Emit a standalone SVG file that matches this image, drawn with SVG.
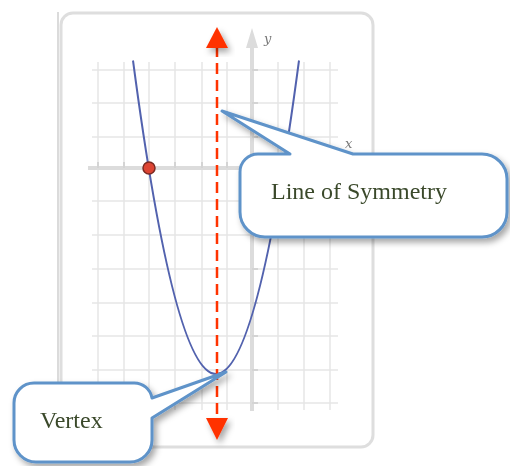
<svg xmlns="http://www.w3.org/2000/svg" width="510" height="466" viewBox="0 0 510 466">
<defs>
<style>
.grid{stroke:#e6e6e6;stroke-width:1.5;fill:none}
.axis{stroke:#dcdcdc;stroke-width:4;fill:none}
.tick{stroke:#d4d4d4;stroke-width:2}
.lbl{font-family:"DejaVu Serif","Liberation Serif",serif;font-style:italic;font-size:13px;fill:#777}
.callout{fill:#ffffff;stroke:#5e93c9;stroke-width:3;stroke-linejoin:round}
.ctext{font-family:"Liberation Serif","DejaVu Serif",serif;font-size:24px;fill:#3b4a2c}
</style>
<filter id="sh" x="-20%" y="-20%" width="150%" height="160%">
<feDropShadow dx="3" dy="4" stdDeviation="3" flood-color="#000" flood-opacity="0.35"/>
</filter>
<filter id="soft" x="-10%" y="-10%" width="120%" height="120%">
<feGaussianBlur stdDeviation="0.4"/>
</filter>
</defs>
<rect width="510" height="466" fill="#ffffff"/>
<g id="panel">
<line x1="58" y1="12" x2="58" y2="400" stroke="#cfcfcf" stroke-width="1.5"/>
<rect x="61" y="13" width="312" height="434" rx="12" fill="#ffffff" stroke="#dedede" stroke-width="3"/>
</g>
<g id="grid" filter="url(#soft)">
<path class="grid" d="M98 62V410M124 62V410M149 62V410M175 62V410M202 62V410M227 62V410M278 62V410M304 62V410M330 62V410"/>
<path class="grid" d="M92 70H338M92 103H338M92 137H338M92 201H338M92 235H338M92 269H338M92 303H338M92 336H338M92 370H338M92 403H338"/>
<line class="axis" x1="88" y1="168" x2="345" y2="168"/>
<line class="axis" x1="252" y1="45" x2="252" y2="411"/>
<polygon points="252,28 246,48 258,48" fill="#dcdcdc"/>
<path class="tick" d="M252 70h6M252 103h6M252 137h6M252 201h6M252 235h6M252 269h6M252 303h6M252 336h6M252 370h6M252 403h6"/>
<path class="tick" d="M98 162v6M124 162v6M149 162v6M175 162v6M202 162v6M227 162v6M278 162v6M304 162v6M330 162v6"/>
<text class="lbl" x="264" y="43">y</text>
<text class="lbl" x="345" y="148">x</text>
</g>
<g id="parabola">
<path d="M133 60.5Q216 687.5 299 60.5" fill="none" stroke="#5262ae" stroke-width="2"/>
<circle cx="149" cy="168" r="6" fill="#dd4433" stroke="#7a2a22" stroke-width="1.5"/>
</g>
<g id="connectors">
<line x1="217" y1="46" x2="217" y2="419" stroke="#ff3300" stroke-width="2.5" stroke-dasharray="11,6"/>
<polygon points="217,27 206,48 228,48" fill="#ff3300" filter="url(#sh)"/>
<polygon points="217,440 206,418 228,418" fill="#ff3300" filter="url(#sh)"/>
</g>
<g id="symmetry" filter="url(#sh)">
<path class="callout" d="M222 111L353 154H482A25 25 0 0 1 507 179V212A25 25 0 0 1 482 237H265A25 25 0 0 1 240 212V172A18 18 0 0 1 258 154H290Z"/>
<text class="ctext" x="271" y="199">Line of Symmetry</text>
</g>
<g id="vertex" filter="url(#sh)">
<path class="callout" d="M226 372L152 418V440A22 22 0 0 1 130 462H36A22 22 0 0 1 14 440V403A20 20 0 0 1 34 383H134A18 18 0 0 1 152 398Z"/>
<text class="ctext" x="40" y="428">Vertex</text>
</g>
</svg>
